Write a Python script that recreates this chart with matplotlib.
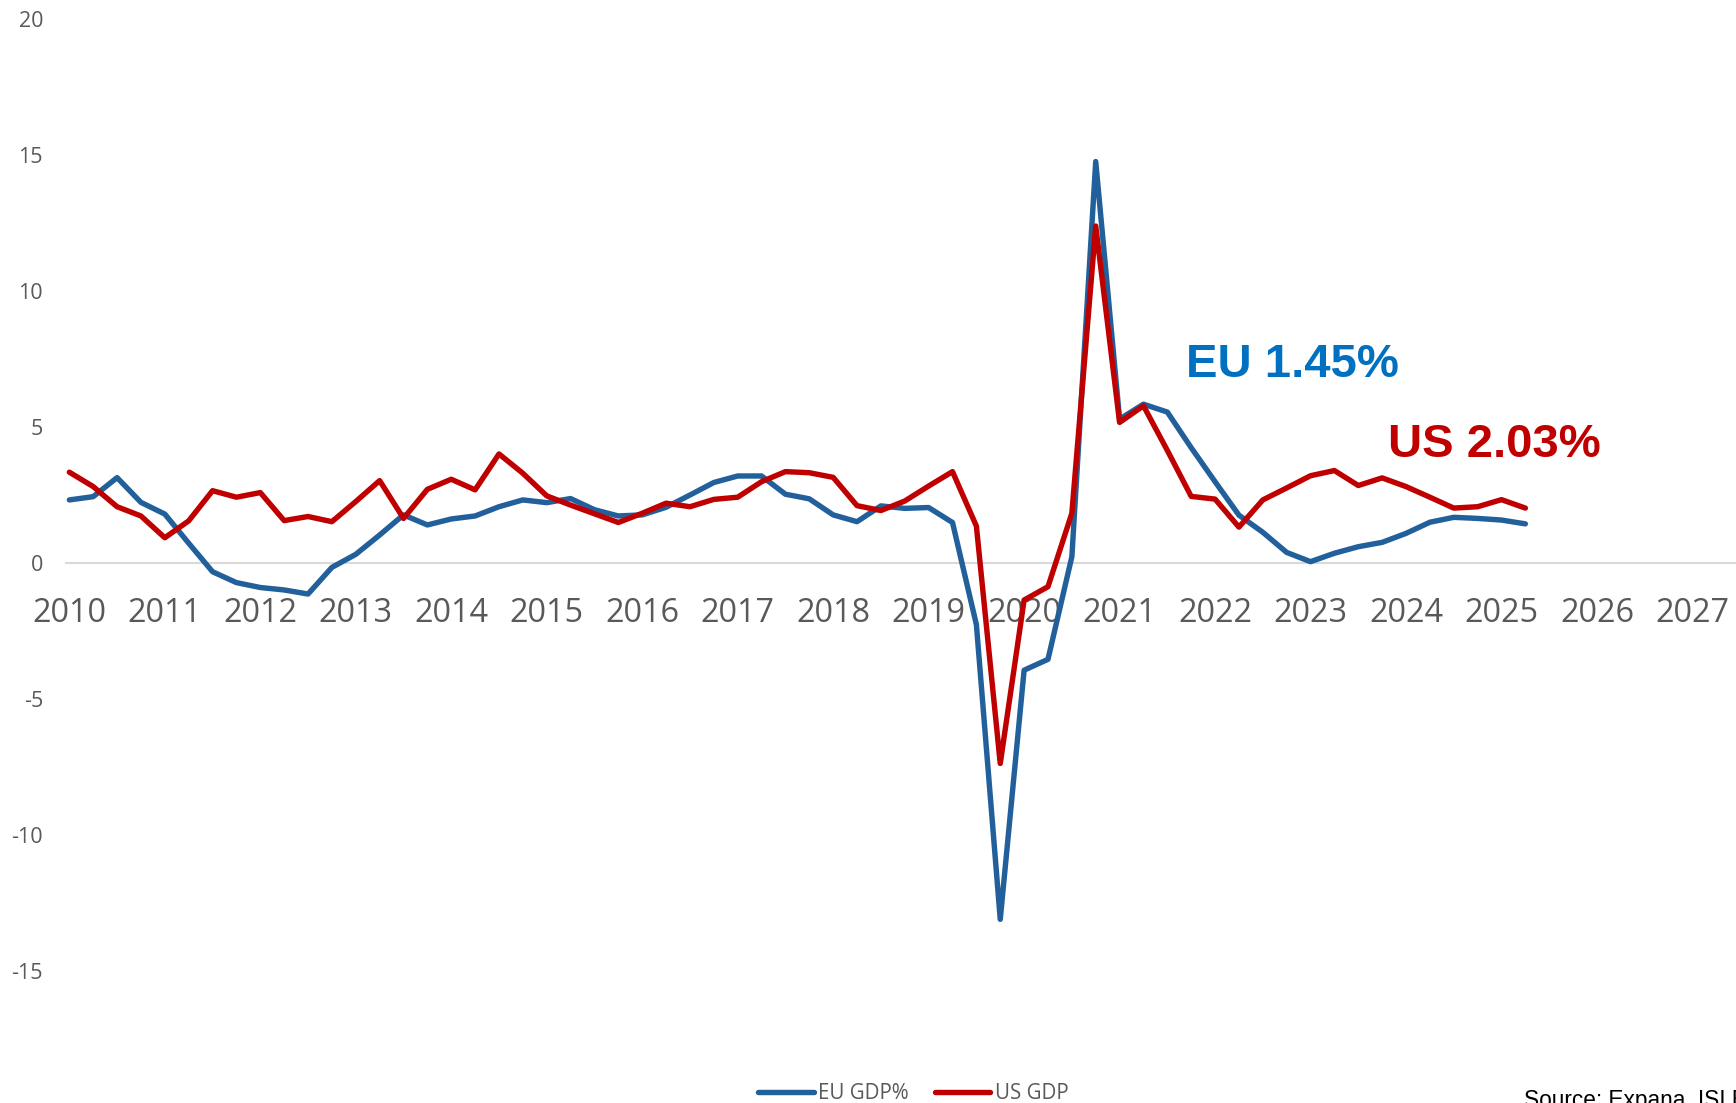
import matplotlib
matplotlib.use("Agg")
import matplotlib.pyplot as plt
import numpy as np

# quarterly year-on-year GDP growth, %
eu_gdp = [2.33, 2.45, 3.15, 2.24, 1.81, 0.74, -0.31, -0.71, -0.89, -0.98,
          -1.13, -0.15, 0.33, 1.04, 1.78, 1.41, 1.63, 1.74, 2.08, 2.33,
          2.23, 2.38, 1.97, 1.74, 1.78, 2.06, 2.51, 2.97, 3.21, 3.21,
          2.54, 2.37, 1.78, 1.53, 2.11, 2.02, 2.05, 1.50, -2.25, -13.09,
          -3.93, -3.53, 0.24, 14.77, 5.30, 5.85, 5.56, 4.25, 3.00, 1.77,
          1.14, 0.40, 0.06, 0.37, 0.61, 0.77, 1.10, 1.51, 1.69, 1.65,
          1.59, 1.45]
us_gdp = [3.35, 2.82, 2.08, 1.74, 0.94, 1.56, 2.67, 2.43, 2.60, 1.57,
          1.72, 1.53, 2.27, 3.04, 1.65, 2.72, 3.09, 2.70, 4.02, 3.31,
          2.48, 2.14, 1.82, 1.50, 1.84, 2.21, 2.08, 2.35, 2.43, 3.00,
          3.37, 3.33, 3.16, 2.12, 1.94, 2.29, 2.84, 3.37, 1.37, -7.36,
          -1.35, -0.86, 1.84, 12.40, 5.18, 5.79, 4.15, 2.46, 2.36, 1.33,
          2.33, 2.77, 3.22, 3.41, 2.86, 3.14, 2.82, 2.43, 2.03, 2.08,
          2.34, 2.03]
years = list(range(2010, 2028))
y_ticks = [20, 15, 10, 5, 0, -5, -10, -15]

start_year = 2010
x = start_year + 0.25 * np.arange(len(eu_gdp))

blue = "#22609C"
red = "#C00000"
grey = "#595959"

W, H = 1736, 1103
fig = plt.figure(figsize=(W / 100, H / 100), dpi=100)
ax = fig.add_axes([65.8 / W, 50.1 / H, 1 - 65.8 / W, 1033.6 / H])

ax.plot(x, eu_gdp, color=blue, lw=3.9, solid_joinstyle="round",
        solid_capstyle="round", label="EU GDP%")
ax.plot(x, us_gdp, color=red, lw=3.9, solid_joinstyle="round",
        solid_capstyle="round", label="US GDP")

ax.set_xlim(2009.963, 2027.456)
ax.set_ylim(-18, 20)

for s in ["top", "right", "left"]:
    ax.spines[s].set_visible(False)
ax.spines["bottom"].set_position(("data", 0))
ax.spines["bottom"].set_color("#D9D9D9")
ax.spines["bottom"].set_linewidth(1.5)
ax.spines["bottom"].set_zorder(0)

ax.set_xticks(years)
ax.set_xticklabels([str(y) for y in years], family="Open Sans",
                   fontsize=23.3, color=grey)
ax.set_yticks(y_ticks)
ax.set_yticklabels([str(v) for v in y_ticks], family="Open Sans",
                   fontsize=15.5, color=grey)
ax.tick_params(axis="x", length=0, pad=24.6)
ax.tick_params(axis="y", length=0, pad=16.4)

ax.text(2021.70, 6.85, "EU 1.45%", color="#0070C0", fontsize=34,
        fontweight="bold", family="Liberation Sans", va="baseline")
ax.text(2023.81, 3.92, "US 2.03%", color=red, fontsize=34,
        fontweight="bold", family="Liberation Sans", va="baseline")

leg = fig.legend(loc="center", bbox_to_anchor=(913 / W, 1 - 1093.5 / H),
                 ncol=2, frameon=False, handlelength=2.72,
                 handletextpad=0.2, columnspacing=1.27,
                 prop={"family": "Open Sans", "size": 14.8})
for t in leg.get_texts():
    t.set_color(grey)
for h in leg.get_lines():
    h.set_linewidth(3.9)
    h.set_solid_capstyle("round")

# the source line runs off the bottom-right corner, as in the original
fig.text(1524 / W, -4 / H, "Source: Expana, ISI Emerging Markets",
         family="Liberation Sans", fontsize=16.3, color="black",
         va="baseline")

fig.savefig("out.png", dpi=100)
